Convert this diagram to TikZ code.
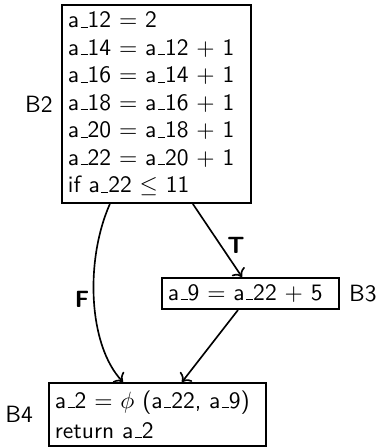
\documentclass[tikz,border=0pt]{standalone}
\usetikzlibrary{arrows.meta,positioning}
\newcommand\usc{\leavevmode\kern.06em\vbox{\hrule width.3em height .45pt}}
\begin{document}
\begin{tikzpicture}[x=0.425pt,y=-0.425pt,
  font=\sffamily\fontsize{10}{11.7}\selectfont,
  box/.style={draw, line width=0.8pt, align=left, inner xsep=2.5pt, inner ysep=0pt, anchor=center},
  lab/.style={inner sep=0pt},
  elab/.style={inner sep=0pt, font=\sffamily\bfseries},
  conn/.style={->, line width=0.7pt}]
\useasboundingbox (0,0) rectangle (381,448);
\node[box, minimum width=80.3pt, minimum height=84.2pt, text width=75.3pt] (b2) at (156.5,104)
 {a\usc12 $=$ 2\\
  a\usc14 $=$ a\usc12 $+$ 1\\
  a\usc16 $=$ a\usc14 $+$ 1\\
  a\usc18 $=$ a\usc16 $+$ 1\\
  a\usc20 $=$ a\usc18 $+$ 1\\
  a\usc22 $=$ a\usc20 $+$ 1\\
  if a\usc22 $\leq$ 11};
\node[box, minimum width=75.2pt, minimum height=13.2pt, text width=70.2pt] (b3) at (250.5,293.5)
 {a\usc9 $=$ a\usc22 $+$ 5};
\node[box, minimum width=92.2pt, minimum height=26.8pt, text width=87.2pt] (b4) at (157.5,414.5)
 {a\usc2 $=$ $\phi$ (a\usc22, a\usc9)\\[1pt]
  return a\usc2};
\node[lab, left=3.4pt of b2] (l2) {B2};
\node[lab, right=3.7pt of b3] (l3) {B3};
\node[lab, left=6.3pt of b4] (l4) {B4};
\draw[conn] (b2.-115) .. controls (85,260) and (88,345) .. ([xshift=-14.66pt]b4.north);
\draw[conn] (b2.-70.5) -- ([xshift=-3.6pt]b3.north);
\draw[conn] ([xshift=-5.3pt]b3.south) -- ([xshift=10.4pt]b4.north);
\node[elab] (lt) at (236,245) {T};
\node[elab] (lf) at (82,299) {F};
\end{tikzpicture}
\end{document}
